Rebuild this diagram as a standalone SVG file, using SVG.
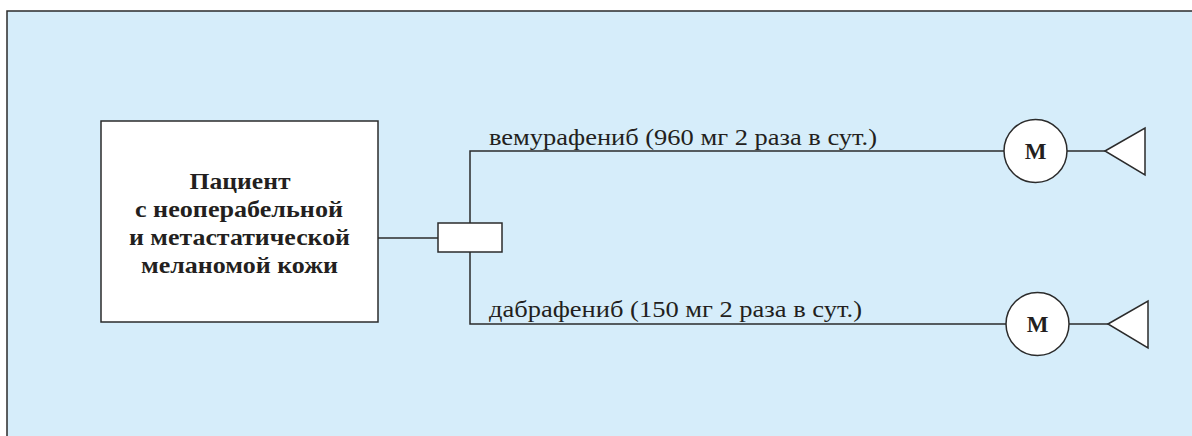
<svg xmlns="http://www.w3.org/2000/svg" width="1192" height="436" viewBox="0 0 1192 436">
<style>
.ln{stroke:#2b2b2b;stroke-width:1.5;fill:none}
.bx{fill:#fff;stroke:#2b2b2b;stroke-width:1.5}
.t{font-family:"Liberation Serif","DejaVu Serif",serif;fill:#231f20}
.b{font-weight:bold;font-size:24px;text-anchor:middle}
.l{font-size:24px}
.m{font-weight:bold;font-size:23px;text-anchor:middle}
</style>
<rect x="0" y="0" width="1192" height="436" fill="#fff"/>
<rect x="7" y="11" width="1200" height="440" fill="#d6edfa" stroke="#2b2b2b" stroke-width="1.5"/>
<g id="connectors">
<path class="ln" d="M378 238H438"/>
<path class="ln" d="M470 223V151H1004M1067 151H1105"/>
<path class="ln" d="M470 252V324H1006M1069 324H1108"/>
</g>
<g id="patient">
<rect class="bx" x="101" y="121" width="277" height="201"/>
<text class="t b" x="240" y="189" textLength="101" lengthAdjust="spacingAndGlyphs">Пациент</text>
<text class="t b" x="239" y="217" textLength="208" lengthAdjust="spacingAndGlyphs">с неоперабельной</text>
<text class="t b" x="239.5" y="245" textLength="221" lengthAdjust="spacingAndGlyphs">и метастатической</text>
<text class="t b" x="239.5" y="273" textLength="197" lengthAdjust="spacingAndGlyphs">меланомой кожи</text>
</g>
<g id="randomization">
<rect class="bx" x="438" y="223" width="64" height="29"/>
</g>
<g id="arm1">
<text class="t l" x="489" y="145" textLength="388" lengthAdjust="spacingAndGlyphs">вемурафениб (960 мг 2 раза в сут.)</text>
<circle class="bx" cx="1035.5" cy="151" r="31.5"/>
<text class="t m" x="1035.5" y="159">М</text>
<polygon class="bx" points="1105,151 1145,128 1145,175"/>
</g>
<g id="arm2">
<text class="t l" x="489" y="317" textLength="373" lengthAdjust="spacingAndGlyphs">дабрафениб (150 мг 2 раза в сут.)</text>
<circle class="bx" cx="1037.5" cy="324" r="31.5"/>
<text class="t m" x="1037.5" y="332">М</text>
<polygon class="bx" points="1108,324 1148,301 1148,348"/>
</g>
</svg>
